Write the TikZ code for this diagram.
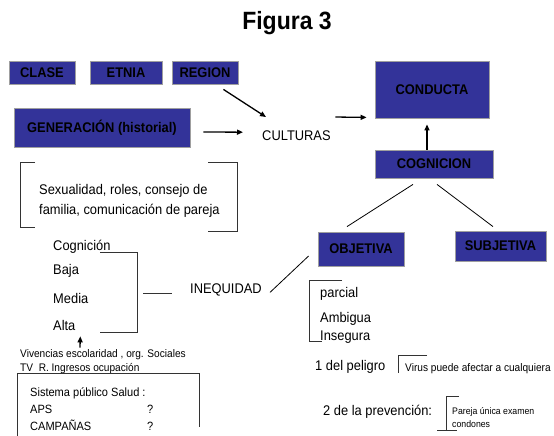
\documentclass[tikz,border=0pt]{standalone}
\usepackage{fontspec}
\setmainfont[FakeStretch=0.92]{Liberation Sans}
\usepackage{tikz}
\usepackage{xcolor}
\usetikzlibrary{arrows.meta}
\definecolor{boxblue}{HTML}{333399}
\tikzset{%
  tipA/.tip={Triangle[length=6pt,width=5pt]},
  blockbox/.style={draw=gray!75, line width=0.8pt, fill=boxblue, inner sep=0pt,
    font=\bfseries\fontsize{14}{17}\selectfont},
  txt/.style={inner sep=0pt, font=\fontsize{14}{17}\selectfont},
  arr/.style={line width=1.3pt, -tipA},
  brk/.style={line width=0.9pt, black!80}
}

\begin{document}
\begin{tikzpicture}[x=1pt,y=-1pt]
\useasboundingbox (0,0) rectangle (554,436);
\node[inner sep=0pt, font=\bfseries\fontsize{25}{30}\selectfont, anchor=base] (title) at (287,30) {Figura 3};
% blue boxes
\node[blockbox, minimum width=66, minimum height=23] (clase) at (42,72.5) {CLASE};
\node[blockbox, minimum width=72, minimum height=23] (etnia) at (126,72.5) {ETNIA};
\node[blockbox, minimum width=66, minimum height=23] (region) at (205,72.5) {REGION};
\node[blockbox, minimum width=176, minimum height=39] (gen) at (102,127.5) {GENERACIÓN (historial)};
\node[blockbox, minimum width=114, minimum height=57] (conducta) at (432,89.5) {CONDUCTA};
\node[blockbox, minimum width=118, minimum height=28] (cognicion) at (434,164) {COGNICION};
\node[blockbox, minimum width=86, minimum height=34] (objetiva) at (361,249) {OBJETIVA};
\node[blockbox, minimum width=91, minimum height=30] (subjetiva) at (500.5,246) {SUBJETIVA};
% plain labels
\node[txt, anchor=base west] (cult) at (262,140) {CULTURAS};
\node[txt, anchor=base west] (ineq) at (190,293) {INEQUIDAD};
\node[txt, anchor=west, align=left, font=\fontsize{14}{20}\selectfont] (sexu) at (39,201)
  {Sexualidad, roles, consejo de\\familia, comunicación de pareja};
\node[txt, anchor=base west] (cogn) at (53,250) {Cognición};
\node[txt, anchor=base west] (baja) at (53,274) {Baja};
\node[txt, anchor=base west] (media) at (53,303) {Media};
\node[txt, anchor=base west] (alta) at (53,330) {Alta};
\node[txt, anchor=west, align=left, font=\fontsize{11}{14}\selectfont] (viv) at (20,362)
  {Vivencias escolaridad , org. Sociales\\TV\ \ R. Ingresos ocupación};
\node[txt, anchor=north west, align=left, font=\fontsize{12}{17}\selectfont] (salud) at (30,387)
  {Sistema público Salud :\\APS\\CAMPAÑAS};
\node[txt, anchor=base west, font=\fontsize{12}{17}\selectfont] (q1) at (147,413) {?};
\node[txt, anchor=base west, font=\fontsize{12}{17}\selectfont] (q2) at (147,430) {?};
\node[txt, anchor=base west] (parcial) at (320,297) {parcial};
\node[txt, anchor=base west] (ambigua) at (320,322) {Ambigua};
\node[txt, anchor=base west] (insegura) at (320,340) {Insegura};
\node[txt, anchor=base west] (peligro) at (315,370) {1 del peligro};
\node[txt, anchor=base west] (prev) at (323,415) {2 de la prevención:};
\node[txt, anchor=base west, font=\fontsize{11}{14}\selectfont] (virus) at (405,371) {Virus puede afectar a cualquiera};
\node[txt, anchor=west, align=left, font=\fontsize{9.5}{13}\selectfont] (pareja) at (452,418)
  {Pareja única examen\\condones};
% arrows
\draw[arr] ([shift={(-15,5)}]region.south east) -- ([shift={(4,-13)}]cult.north west);
\draw[arr] ([shift={(13,4.5)}]gen.east) -- ([shift={(-19,-3)}]cult.west);
\draw[arr] ([shift={(4.5,-13)}]cult.north east) -- ([shift={(-8,-1)}]conducta.south west);
\draw[arr] ([xshift=-7]cognicion.north) -- ([shift={(-5,6)}]conducta.south);
\draw[arr] ([shift={(60,-2)}]viv.north west) -- ([shift={(16,6)}]alta.south);
% plain lines
\draw[line width=0.8pt] ([shift={(-21,6)}]cognicion.south) -- ([shift={(-14,-5)}]objetiva.north);
\draw[line width=0.8pt] ([shift={(3,6)}]cognicion.south) -- ([shift={(-7.5,-4)}]subjetiva.north);
\draw[line width=0.8pt] ([shift={(-9,7)}]objetiva.west) -- ([shift={(8,3)}]ineq.east);
% brackets
\draw[brk] (35,162) -- (20,162) -- (20,227) -- (35,227);
\draw[brk] (208,162) -- (237,162) -- (237,231) -- (208,231);
\draw[brk] (100,252) -- (137,252) -- (137,332) -- (100,332);
\draw[brk] (143,293) -- (172,293);
\draw[brk] (342,280) -- (309,280) -- (309,341) -- (322,341);
\draw[brk] (427,355) -- (398,355) -- (398,373);
\draw[brk] (459,396) -- (446,396) -- (446,430);
\draw[brk] (437,430) -- (457,430);
\draw[brk] (17,436) -- (17,373) -- (199,373) -- (199,427);
\end{tikzpicture}
\end{document}
